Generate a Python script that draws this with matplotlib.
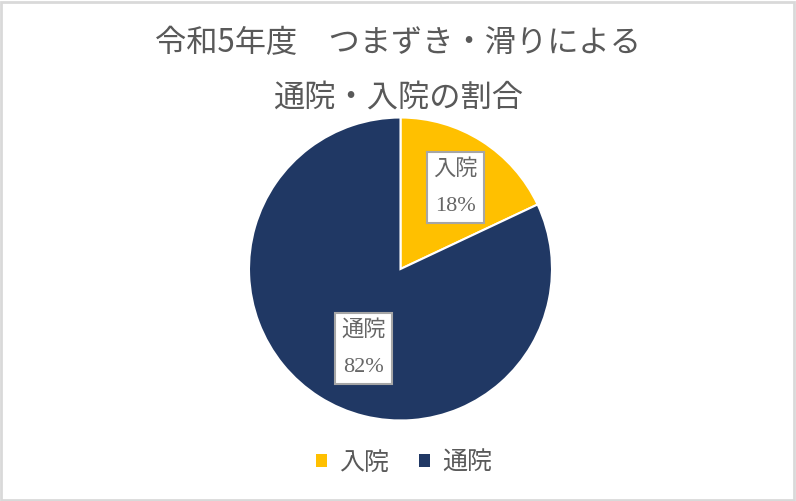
import matplotlib
matplotlib.use("Agg")
import numpy as np
import matplotlib.pyplot as plt
from matplotlib.patches import Patch, Rectangle

plt.rcParams['font.family'] = ['Noto Sans CJK JP', 'DejaVu Sans']

title_lines = ["令和5年度\u3000つまずき・滑りによる", "通院・入院の割合"]
categories = ["入院", "通院"]
shares = [18, 82]
colors = ["#FFC000", "#203864"]
label_font = ['Liberation Serif', 'Noto Sans CJK JP']

W, H = 796, 501
fig = plt.figure(figsize=(W / 100, H / 100), dpi=100)
fig.patch.set_facecolor("white")
fig.patches.append(Rectangle((0.001, 0.002), 0.997, 0.995, transform=fig.transFigure,
                             fill=False, edgecolor="#D9D9D9", linewidth=2))

# pie axes: center ~ (400, 269) px, radius ~151 px
cx, cy, r = 400.5, 269, 151.5
ax = fig.add_axes([(cx - r) / W, (H - cy - r) / H, 2 * r / W, 2 * r / H])
wedges, texts = ax.pie(shares, colors=colors, startangle=90, counterclock=False,
                       labels=[f"{c}\n{s}%" for c, s in zip(categories, shares)],
                       labeldistance=0.62,
                       wedgeprops=dict(edgecolor="white", linewidth=1.5))
# label placement (distance, angle shift in degrees) like Excel's best fit
label_dist = [0.65, 0.58]
label_shift = [-1.5, 7.5]
for t, w, d, s in zip(texts, wedges, label_dist, label_shift):
    ang = np.deg2rad((w.theta1 + w.theta2) / 2 + s)
    t.set_position((d * np.cos(ang), d * np.sin(ang)))
    t.set_family(label_font)
    t.set_fontsize(16)
    t.set_color("#666666")
    t.set_ha("center")
    t.set_va("center")
    t.set_linespacing(2.25)
    t.set_bbox(dict(boxstyle="square,pad=0.3", facecolor="white",
                    edgecolor="#A6A6A6", linewidth=1.5))
ax.set_xlim(-1, 1)
ax.set_ylim(-1, 1)

fig.text(0.5, 1 - 43 / H, title_lines[0], ha="center", va="center",
         fontsize=22.5, color="#595959")
fig.text(0.5, 1 - 98 / H, title_lines[1], ha="center", va="center",
         fontsize=22.5, color="#595959")

handles = [Patch(facecolor=c, edgecolor="none") for c in colors]
leg = fig.legend(handles, categories, loc="center", bbox_to_anchor=(0.508, 1 - 463 / H),
                 ncol=2, frameon=False, handlelength=0.42, handleheight=0.42,
                 handletextpad=0.5, columnspacing=1.2,
                 prop=dict(family=label_font, size=18))
for t in leg.get_texts():
    t.set_color("#595959")

fig.savefig("out.png", dpi=100, facecolor="white")
